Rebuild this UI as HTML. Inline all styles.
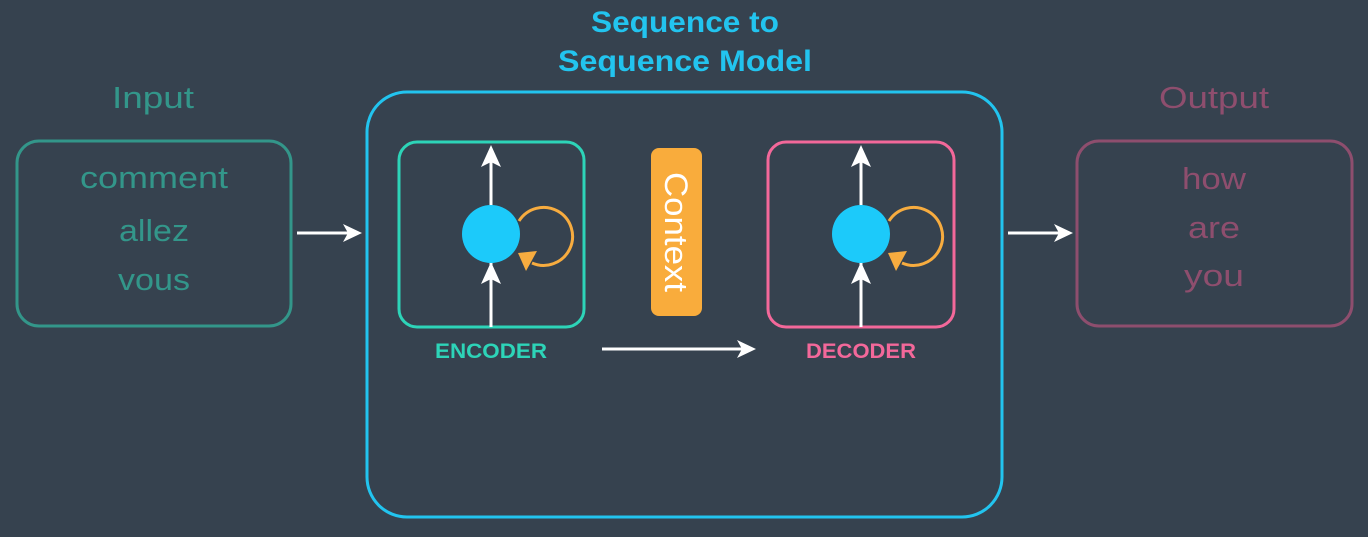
<!DOCTYPE html>
<html><head><style>
html,body{margin:0;padding:0;background:#36424f;}
svg{display:block;}
text{font-family:"Liberation Sans",sans-serif;}
</style></head><body>
<svg width="1368" height="537" viewBox="0 0 1368 537" xmlns="http://www.w3.org/2000/svg">
<rect width="1368" height="537" fill="#36424f"/>
<!-- Title -->
<text x="685" y="32" text-anchor="middle" font-size="30" font-weight="bold" fill="#22c4ef" textLength="188" lengthAdjust="spacingAndGlyphs">Sequence to</text>
<text x="685" y="71" text-anchor="middle" font-size="30" font-weight="bold" fill="#22c4ef" textLength="254" lengthAdjust="spacingAndGlyphs">Sequence Model</text>
<!-- Input -->
<text x="153" y="108" text-anchor="middle" font-size="31" fill="#33968a" textLength="82" lengthAdjust="spacingAndGlyphs">Input</text>
<rect x="17" y="141" width="274" height="185" rx="22" fill="none" stroke="#33968a" stroke-width="3"/>
<text x="154" y="188" text-anchor="middle" font-size="31" fill="#33968a" textLength="148" lengthAdjust="spacingAndGlyphs">comment</text>
<text x="154" y="241" text-anchor="middle" font-size="31" fill="#33968a" textLength="70" lengthAdjust="spacingAndGlyphs">allez</text>
<text x="154" y="290" text-anchor="middle" font-size="31" fill="#33968a" textLength="72" lengthAdjust="spacingAndGlyphs">vous</text>
<!-- arrows between -->
<line x1="297" y1="233" x2="358" y2="233" stroke="#fff" stroke-width="3"/>
<polygon points="362,233 343,224 348,233 343,242" fill="#fff"/>
<!-- main box -->
<rect x="367" y="92" width="635" height="425" rx="40" fill="none" stroke="#22c4ef" stroke-width="3"/>
<!-- Encoder -->
<rect x="399" y="142" width="185" height="185" rx="18" fill="none" stroke="#2dd4b8" stroke-width="3"/>
<line x1="491" y1="327" x2="491" y2="150" stroke="#fff" stroke-width="3"/>
<polygon points="491,145 481,167 491,162 501,167" fill="#fff"/>
<polygon points="491,262 481,284 491,279 501,284" fill="#fff"/>
<path d="M519,221 A29,29 0 1 1 532,263" fill="none" stroke="#f7ac3f" stroke-width="3"/>
<polygon points="518,253 537,251 531,262 526,271" fill="#f7ac3f"/>
<circle cx="491" cy="234" r="29" fill="#1ccafa"/>
<text x="491" y="358" text-anchor="middle" font-size="21" font-weight="bold" fill="#2dd4b8" textLength="112" lengthAdjust="spacingAndGlyphs">ENCODER</text>
<!-- Context -->
<rect x="651" y="148" width="51" height="168" rx="8" fill="#f9ac3c"/>
<text transform="translate(665,232) rotate(90)" text-anchor="middle" font-size="32" fill="#fff" textLength="120" lengthAdjust="spacingAndGlyphs">Context</text>
<!-- mid arrow -->
<line x1="602" y1="349" x2="750" y2="349" stroke="#fff" stroke-width="3"/>
<polygon points="756,349 737,340 742,349 737,358" fill="#fff"/>
<!-- Decoder -->
<rect x="768" y="142" width="186" height="185" rx="18" fill="none" stroke="#f3689a" stroke-width="3"/>
<line x1="861" y1="327" x2="861" y2="150" stroke="#fff" stroke-width="3"/>
<polygon points="861,145 851,167 861,162 871,167" fill="#fff"/>
<polygon points="861,262 851,284 861,279 871,284" fill="#fff"/>
<path d="M889,221 A29,29 0 1 1 902,263" fill="none" stroke="#f7ac3f" stroke-width="3"/>
<polygon points="888,253 907,251 901,262 896,271" fill="#f7ac3f"/>
<circle cx="861" cy="234" r="29" fill="#1ccafa"/>
<text x="861" y="358" text-anchor="middle" font-size="21" font-weight="bold" fill="#f3689a" textLength="110" lengthAdjust="spacingAndGlyphs">DECODER</text>
<!-- right arrow -->
<line x1="1008" y1="233" x2="1068" y2="233" stroke="#fff" stroke-width="3"/>
<polygon points="1073,233 1054,224 1059,233 1054,242" fill="#fff"/>
<!-- Output -->
<text x="1214" y="108" text-anchor="middle" font-size="31" fill="#8e4e6e" textLength="110" lengthAdjust="spacingAndGlyphs">Output</text>
<rect x="1077" y="141" width="275" height="185" rx="22" fill="none" stroke="#8e4e6e" stroke-width="3"/>
<text x="1214" y="189" text-anchor="middle" font-size="31" fill="#8e4e6e" textLength="64" lengthAdjust="spacingAndGlyphs">how</text>
<text x="1214" y="238" text-anchor="middle" font-size="31" fill="#8e4e6e" textLength="52" lengthAdjust="spacingAndGlyphs">are</text>
<text x="1214" y="286" text-anchor="middle" font-size="31" fill="#8e4e6e" textLength="60" lengthAdjust="spacingAndGlyphs">you</text>
</svg>
</body></html>
